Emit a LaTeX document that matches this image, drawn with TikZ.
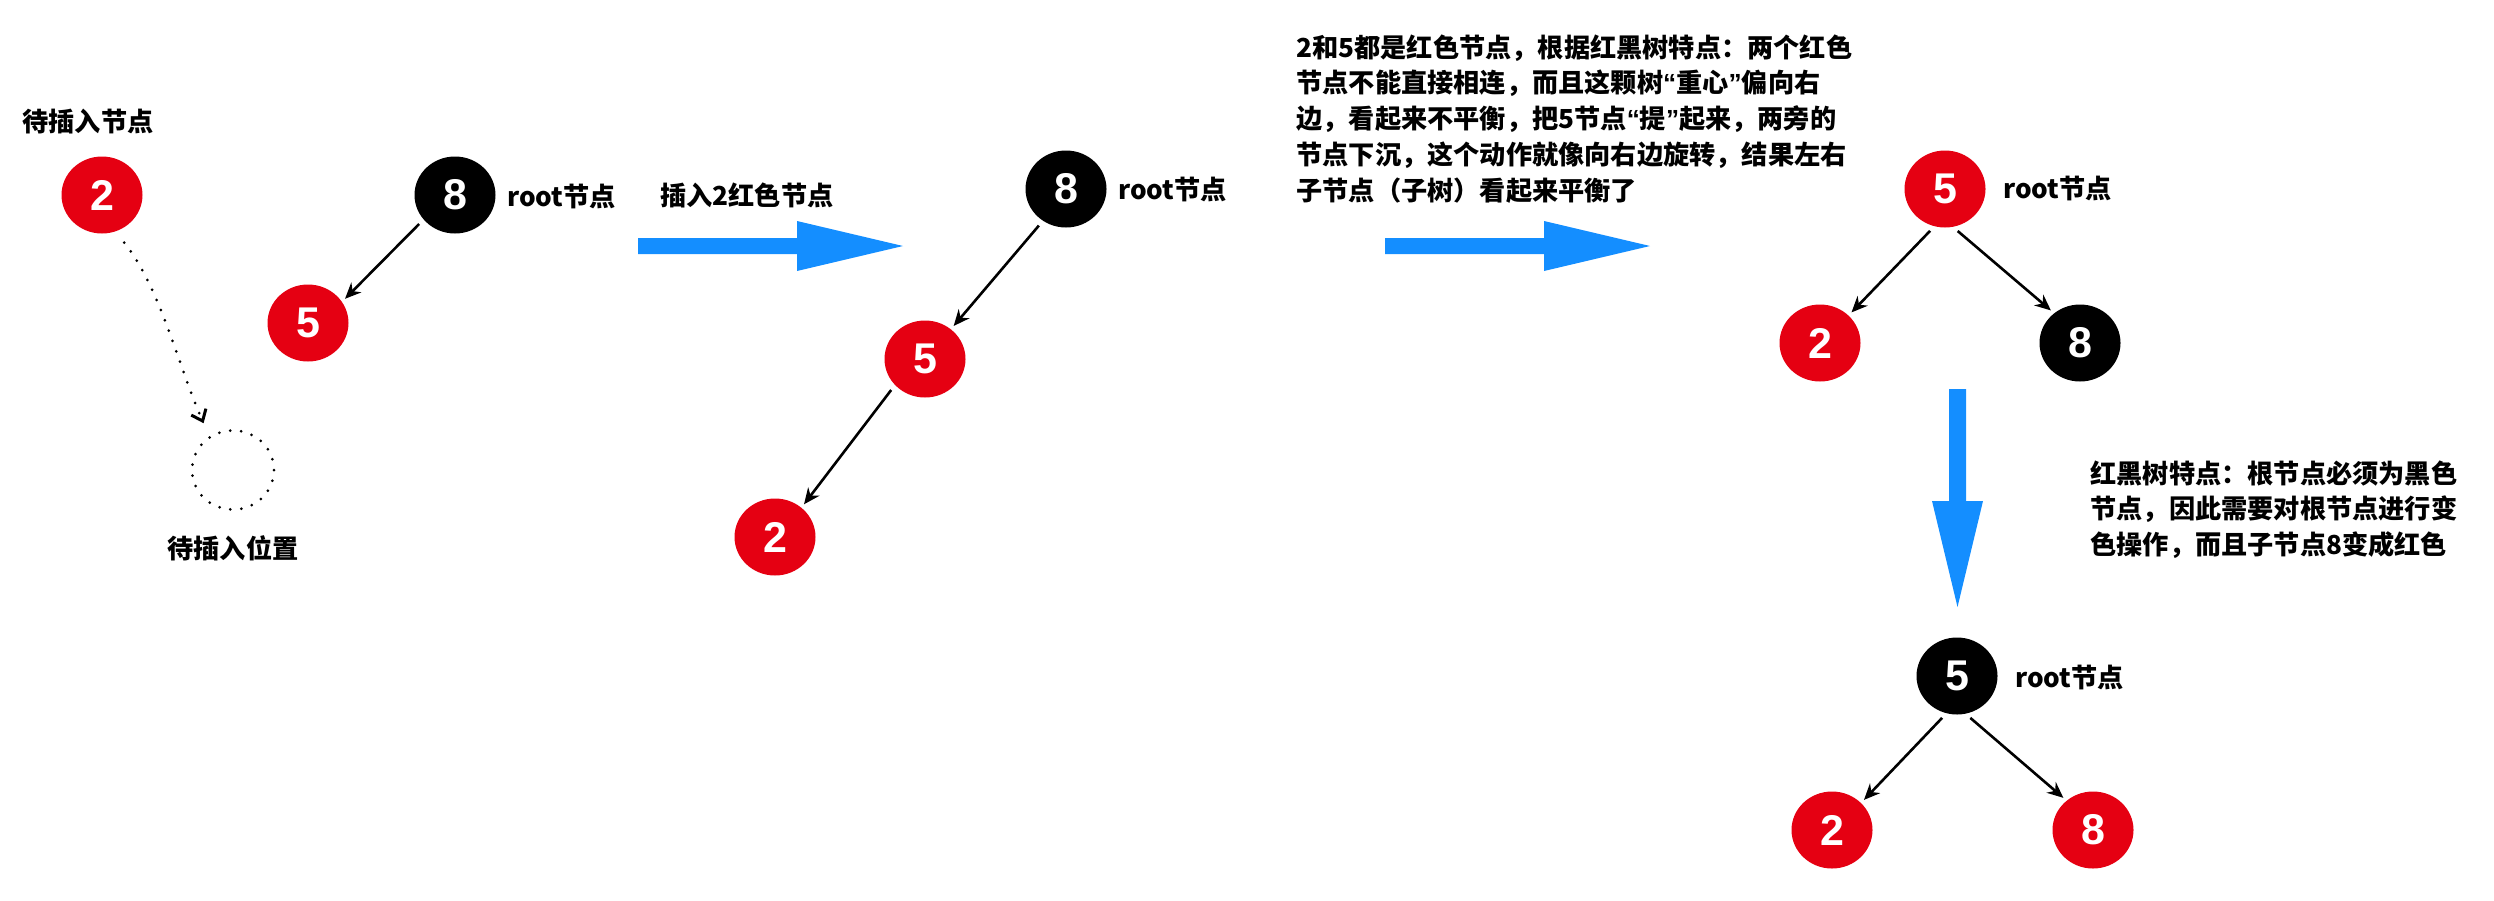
\documentclass[tikz,border=0pt]{standalone}
\usepackage{fontspec}
\setmainfont{Noto Sans CJK SC}
\newfontfamily\numfont{Liberation Sans}
\usetikzlibrary{arrows.meta, shapes, calc}
\definecolor{rbred}{RGB}{229,0,18}
\definecolor{flowblue}{RGB}{20,142,255}

\begin{document}
\begin{tikzpicture}[
    x=0.5pt, y=-0.5pt,
    rednode/.style={ellipse, fill=rbred, minimum width=40.5pt, minimum height=38.5pt, inner sep=0pt, text=white, font=\numfont\bfseries\fontsize{21.5}{21.5}\selectfont},
    blacknode/.style={rednode, fill=black},
    slotnode/.style={ellipse, draw=black, line width=1.5pt, line cap=round, dash pattern=on 0pt off 5.5pt, minimum width=41pt, minimum height=39.5pt},
    link/.style={-{Stealth[length=8pt, width=7pt]}, line width=1.3pt, shorten <=3pt, shorten >=2pt},
    insarrow/.style={-{Straight Barb[length=5pt, width=8pt]}, line width=1.5pt, line cap=round, dash pattern=on 0pt off 5.5pt},
    txt/.style={font=\bfseries\fontsize{13.1}{17.9}\selectfont, inner sep=0pt},
    note/.style={txt, align=left, anchor=north west},
    flow/.style={fill=flowblue}
]
\useasboundingbox (0,0) rectangle (2494,900);

% Step 1: node waiting to be inserted
\node[rednode] (ins) at (102,195) {2};
\node[txt] (insLabel) at (88,122) {待插入节点};
\node[slotnode] (slot) at (233,470) {};
\node[txt] (slotLabel) at (233,548) {待插入位置};
\draw[insarrow, shorten <=7pt, shorten >=7pt] (ins.-70) .. controls (160,287) and (178,365) .. (slot.125);

\node[blacknode] (a8) at (455,195) {8};
\node[rednode] (a5) at (308,323) {5};
\node[txt, anchor=west] (rootA) at (507,197) {root节点};
\draw[link] (a8.-142) -- (a5.32);

% Step 2: after insert
\fill[flow] (638,238) -- (797,238) -- (797,221) -- (903,246) -- (797,271) -- (797,254) -- (638,254) -- cycle;
\node[txt] (insertLabel) at (747,195) {插入2红色节点};

\node[blacknode] (b8) at (1066,189) {8};
\node[rednode] (b5) at (925,359) {5};
\node[rednode] (b2) at (775,537) {2};
\node[txt, anchor=west] (rootB) at (1118,190) {root节点};
\draw[link] (b8.-126) -- (b5.49);
\draw[link] (b5.-139) -- (b2.48);

% Step 3: right rotation
\fill[flow] (1385,238) -- (1544,238) -- (1544,221) -- (1650,246) -- (1544,271) -- (1544,254) -- (1385,254) -- cycle;
\node[note] (rotateNote) at (1296,34) {2和5都是红色节点，根据红黑树特点：两个红色\\
节点不能直接相连，而且这颗树{\numfont “}重心{\numfont ”}偏向右\\
边，看起来不平衡，把5节点{\numfont “}提{\numfont ”}起来，两旁的\\
节点下沉，这个动作就像向右边旋转，结果左右\\
子节点（子树）看起来平衡了};

\node[rednode] (c5) at (1945,189) {5};
\node[rednode] (c2) at (1820,343) {2};
\node[blacknode] (c8) at (2080,343) {8};
\node[txt, anchor=west] (rootC) at (2003,189) {root节点};
\draw[link] (c5.-106) -- (c2.44);
\draw[link] (c5.-78) -- (c8.131);

% Step 4: recolour
\fill[flow] (1949,389) -- (1949,501) -- (1932,501) -- (1957.5,607) -- (1983,501) -- (1966,501) -- (1966,389) -- cycle;
\node[note] (colorNote) at (2090,460) {红黑树特点：根节点必须为黑色\\
节点，因此需要对根节点进行变\\
色操作，而且子节点8变成红色};

\node[blacknode] (d5) at (1957,676) {5};
\node[rednode] (d2) at (1832,830) {2};
\node[rednode] (d8) at (2093,830) {8};
\node[txt, anchor=west] (rootD) at (2015,677) {root节点};
\draw[link] (d5.-106) -- (d2.43);
\draw[link] (d5.-77) -- (d8.132);

\end{tikzpicture}
\end{document}
